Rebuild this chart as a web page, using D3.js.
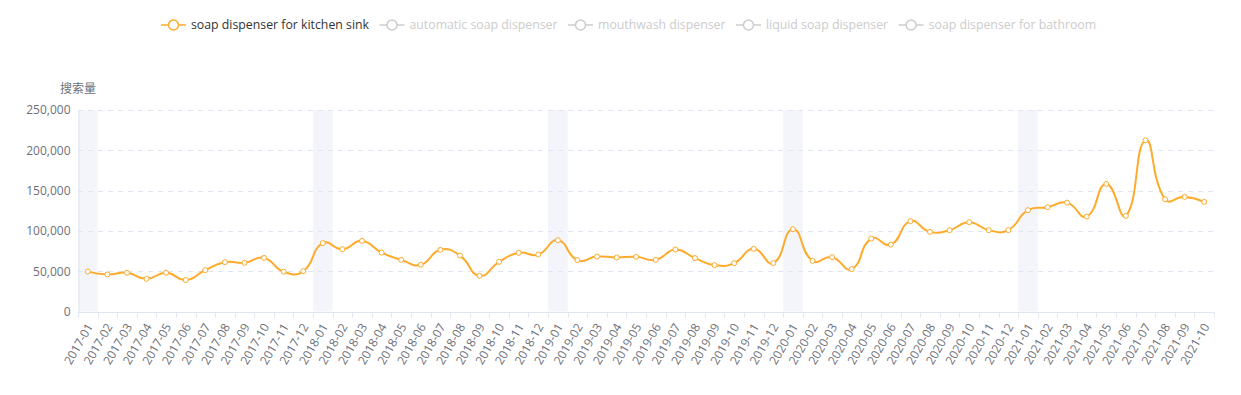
<!DOCTYPE html>
<html>
<head>
<meta charset="utf-8">
<script src="https://cdn.jsdelivr.net/npm/d3@7"></script>
<style>
  html, body { margin: 0; padding: 0; background: #fff; }
  svg { display: block; font-family: "Open Sans", "Liberation Sans", Arial, sans-serif; }
</style>
</head>
<body>
<div id="chart"></div>
<script>
const months = [
  "2017-01","2017-02","2017-03","2017-04","2017-05","2017-06","2017-07","2017-08","2017-09","2017-10","2017-11","2017-12",
  "2018-01","2018-02","2018-03","2018-04","2018-05","2018-06","2018-07","2018-08","2018-09","2018-10","2018-11","2018-12",
  "2019-01","2019-02","2019-03","2019-04","2019-05","2019-06","2019-07","2019-08","2019-09","2019-10","2019-11","2019-12",
  "2020-01","2020-02","2020-03","2020-04","2020-05","2020-06","2020-07","2020-08","2020-09","2020-10","2020-11","2020-12",
  "2021-01","2021-02","2021-03","2021-04","2021-05","2021-06","2021-07","2021-08","2021-09","2021-10"
];
const kitchenSink = [
  49500, 46000, 48000, 40500, 48000, 39000, 51300, 61200, 60400, 66500, 49400, 50000,
  84800, 77300, 87600, 73100, 64100, 57900, 76500, 69400, 44200, 61600, 72800, 70700,
  88500, 63700, 68200, 67000, 67800, 64100, 76900, 66300,
  57500, 60000, 77700, 60000,
  102100, 62800, 67400, 52500, 90500, 83000, 112000, 98800, 100900, 110800, 100900, 100900,
  125700, 129400, 135100, 117800, 158300, 118600, 212400, 139300, 142200, 136000
];
const seriesNames = [
  "soap dispenser for kitchen sink",
  "automatic soap dispenser",
  "mouthwash dispenser",
  "liquid soap dispenser",
  "soap dispenser for bathroom"
];
const activeSeries = [true, false, false, false, false];
const highlightMonths = ["2017-01","2018-01","2019-01","2020-01","2021-01"];
const yTicks = [0, 50000, 100000, 150000, 200000, 250000];
const yAxisName = "搜索量";

const W = 1241, H = 395;
const margin = { left: 78, right: W - 1214, top: 110, bottom: H - 311.5 };
const lineColor = "#fdab2c";
const axisColor = "#e0e6f1";
const labelColor = "#6e7079";

const svg = d3.select("#chart").append("svg").attr("width", W).attr("height", H);

const x = d3.scaleBand().domain(months).range([margin.left, W - margin.right]);
const y = d3.scaleLinear().domain([0, 250000]).range([H - margin.bottom, margin.top]);

// highlight bands
svg.append("g").selectAll("rect").data(highlightMonths).join("rect")
  .attr("x", d => x(d)).attr("width", x.bandwidth())
  .attr("y", y(250000)).attr("height", y(0) - y(250000))
  .attr("fill", "#f4f5fa");

// grid lines
svg.append("g").selectAll("line").data(yTicks.filter(t => t > 0)).join("line")
  .attr("x1", margin.left).attr("x2", W - margin.right)
  .attr("y1", d => Math.round(y(d)) + 0.5).attr("y2", d => Math.round(y(d)) + 0.5)
  .attr("stroke", axisColor).attr("stroke-dasharray", "5,5");

// y axis
const yAxis = svg.append("g").attr("transform", `translate(${margin.left + 0.5},0)`)
  .call(d3.axisLeft(y).tickValues(yTicks).tickSize(0).tickPadding(8).tickFormat(d3.format(",")));
yAxis.select(".domain").attr("stroke", axisColor);
yAxis.selectAll("text").attr("fill", labelColor).style("font-size", "12px")
  .style("font-family", "'Open Sans', sans-serif");

svg.append("text").attr("x", margin.left).attr("y", 93)
  .attr("text-anchor", "middle").attr("fill", labelColor).style("font-size", "12px")
  .style("font-family", "'Noto Sans CJK SC', sans-serif")
  .text(yAxisName);

// x axis
const xAxisG = svg.append("g").attr("transform", `translate(0,${Math.round(y(0)) + 0.5})`);
xAxisG.append("line").attr("x1", margin.left).attr("x2", W - margin.right)
  .attr("stroke", axisColor);
const tickPos = months.map(m => x(m)).concat([x(months[months.length - 1]) + x.bandwidth()]);
xAxisG.selectAll("line.tick").data(tickPos).join("line").attr("class", "tick")
  .attr("x1", d => Math.round(d) + 0.5).attr("x2", d => Math.round(d) + 0.5)
  .attr("y1", 0).attr("y2", 5).attr("stroke", axisColor);
xAxisG.selectAll("text").data(months).join("text")
  .attr("transform", d => `translate(${x(d) + x.bandwidth() / 2 + 2},12) rotate(-60)`)
  .attr("text-anchor", "end").attr("dy", "0.35em")
  .attr("fill", labelColor).style("font-size", "12px")
  .text(d => d);

// ECharts(v4)-style smooth bezier: cps from neighbour vector, weighted by segment lengths
function echartsSmooth(context) {
  let pts = [];
  return {
    areaStart() {}, areaEnd() {},
    lineStart() { pts = []; },
    point(px, py) { pts.push([+px, +py]); },
    lineEnd() {
      const s = 0.5, n = pts.length;
      const cpIn = [], cpOut = [];
      for (let i = 0; i < n; i++) {
        const p = pts[i];
        if (i === 0 || i === n - 1) { cpIn[i] = p; cpOut[i] = p; continue; }
        const pr = pts[i - 1], nx = pts[i + 1];
        const vx = (nx[0] - pr[0]) * s, vy = (nx[1] - pr[1]) * s;
        let d0 = Math.hypot(p[0] - pr[0], p[1] - pr[1]);
        let d1 = Math.hypot(p[0] - nx[0], p[1] - nx[1]);
        const sum = d0 + d1;
        if (sum) { d0 /= sum; d1 /= sum; }
        cpIn[i] = [p[0] - vx * d0, p[1] - vy * d0];
        cpOut[i] = [p[0] + vx * d1, p[1] + vy * d1];
      }
      context.moveTo(pts[0][0], pts[0][1]);
      for (let i = 1; i < n; i++) {
        context.bezierCurveTo(cpOut[i - 1][0], cpOut[i - 1][1], cpIn[i][0], cpIn[i][1], pts[i][0], pts[i][1]);
      }
    }
  };
}

const data = months.map((m, i) => ({ m, v: kitchenSink[i] }));
const line = d3.line().x(d => x(d.m) + x.bandwidth() / 2).y(d => y(d.v)).curve(echartsSmooth);

svg.append("path").datum(data).attr("d", line)
  .attr("fill", "none").attr("stroke", lineColor).attr("stroke-width", 2);

svg.append("g").selectAll("circle").data(data).join("circle")
  .attr("cx", d => x(d.m) + x.bandwidth() / 2).attr("cy", d => y(d.v))
  .attr("r", 2.5).attr("fill", "#fff").attr("stroke", lineColor).attr("stroke-width", 1);

// legend
const legend = svg.append("g").attr("transform", "translate(161,25)");
let lx = 0;
seriesNames.forEach((name, i) => {
  const c = activeSeries[i] ? lineColor : "#ccc";
  const g = legend.append("g").attr("transform", `translate(${lx},0)`);
  g.append("line").attr("x1", 0).attr("x2", 25).attr("y1", 0).attr("y2", 0)
    .attr("stroke", c).attr("stroke-width", 1.5);
  g.append("circle").attr("cx", 12.5).attr("cy", 0).attr("r", 5)
    .attr("fill", "#fff").attr("stroke", c).attr("stroke-width", 1.5);
  const t = g.append("text").attr("x", 30).attr("dy", "0.35em")
    .attr("fill", activeSeries[i] ? "#333" : "#ccc").style("font-size", "12.3px").text(name);
  lx += 30 + t.node().getComputedTextLength() + 10.5;
});
</script>
</body>
</html>
